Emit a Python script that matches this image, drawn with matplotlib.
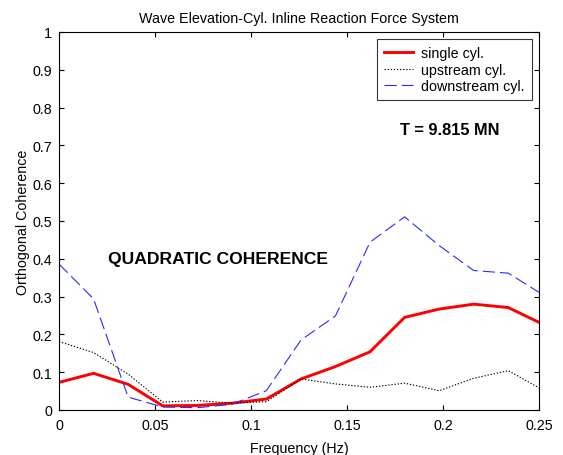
import numpy as np
import matplotlib
matplotlib.use("Agg")
import matplotlib.pyplot as plt

plt.rcParams['font.family'] = ['Liberation Sans', 'DejaVu Sans']

# Frequency bins (Hz)
freq = [0.0, 0.018, 0.036, 0.054, 0.072, 0.090, 0.108, 0.126,
        0.144, 0.162, 0.180, 0.198, 0.216, 0.234, 0.252]

single_cyl = [0.073, 0.097, 0.068, 0.011, 0.012, 0.018, 0.029, 0.082,
              0.115, 0.154, 0.245, 0.267, 0.280, 0.271, 0.227]
upstream_cyl = [0.181, 0.152, 0.095, 0.021, 0.025, 0.018, 0.022, 0.082,
                0.069, 0.060, 0.071, 0.051, 0.084, 0.104, 0.053]
downstream_cyl = [0.386, 0.294, 0.034, 0.008, 0.006, 0.015, 0.051, 0.185,
                  0.249, 0.444, 0.511, 0.435, 0.369, 0.362, 0.305]

xticks = [0, 0.05, 0.1, 0.15, 0.2, 0.25]
xticklabels = ['0', '0.05', '0.1', '0.15', '0.2', '0.25']
yticks = [0, 0.1, 0.2, 0.3, 0.4, 0.5, 0.6, 0.7, 0.8, 0.9, 1.0]
yticklabels = ['0', '0.1', '0.2', '0.3', '0.4', '0.5', '0.6', '0.7', '0.8', '0.9', '1']

fig = plt.figure(figsize=(5.63, 4.56), dpi=100)
ax = fig.add_axes([59/563, 45/456, 480/563, 378/456])

ax.plot(freq, single_cyl, color='#ff0000', lw=2.1, label='single cyl.',
        solid_joinstyle='round')
ax.plot(freq, upstream_cyl, color='black', lw=0.8, ls=(0, (1.2, 1.6)),
        label='upstream cyl.')
ax.plot(freq, downstream_cyl, color='#2a2aff', lw=0.8, ls=(0, (11, 4.5)),
        label='downstream cyl.')

ax.set_xlim(0, 0.25)
ax.set_ylim(0, 1)
ax.set_xticks(xticks)
ax.set_xticklabels(xticklabels)
ax.set_yticks(yticks)
ax.set_yticklabels(yticklabels)
ax.tick_params(direction='in', top=True, right=True, length=3.8, width=0.8,
               labelsize=10.3)
ax.tick_params(axis='x', pad=6)
ax.tick_params(axis='y', pad=5)
for s in ax.spines.values():
    s.set_linewidth(0.8)

ax.set_xlabel('Frequency (Hz)', fontsize=10.3, labelpad=6)
ax.set_ylabel('Orthogonal Coherence', fontsize=10.3, labelpad=2)
ax.set_title('Wave Elevation-Cyl. Inline Reaction Force System', fontsize=10.3, pad=7)

ax.text(0.083, 0.40, 'QUADRATIC COHERENCE', fontsize=12.6, fontweight='bold',
        ha='center', va='center')
ax.text(0.2035, 0.743, 'T = 9.815 MN', fontsize=11.8, fontweight='bold',
        ha='center', va='center')

leg = ax.legend(loc='upper right', fontsize=10.3, frameon=True, fancybox=False,
                edgecolor='black', handlelength=2.0, handletextpad=0.6,
                borderpad=0.5, labelspacing=0.16, borderaxespad=0.5)
leg.get_frame().set_linewidth(0.8)

fig.savefig('out.png', dpi=100)
